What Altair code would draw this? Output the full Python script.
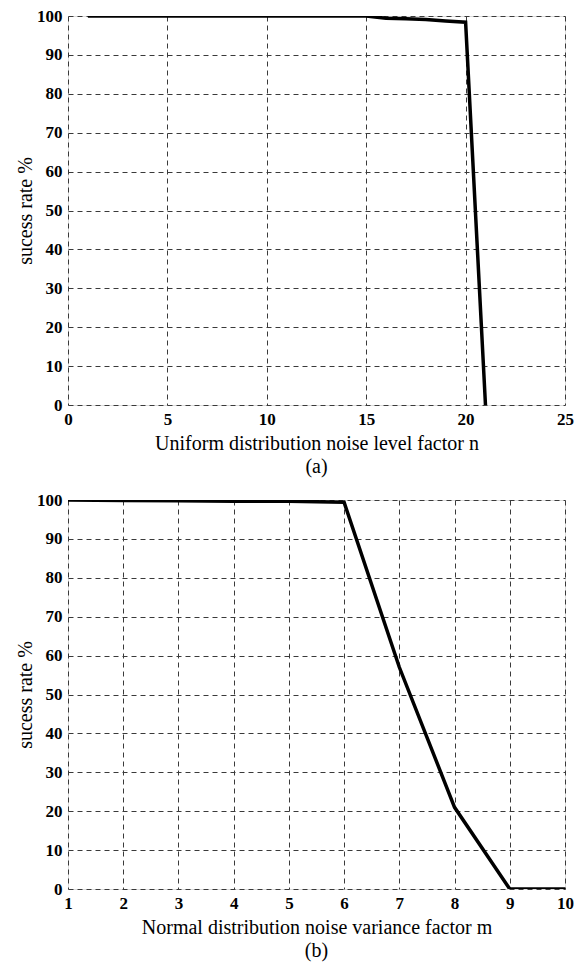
import altair as alt
import pandas as pd

# Panel (a): uniform distribution noise
a_x = [1, 2, 3, 4, 5, 6, 7, 8, 9, 10, 11, 12, 13, 14, 15, 16, 17, 18, 19, 20, 21]
a_y = [100, 100, 100, 100, 100, 100, 100, 100, 100, 100, 100, 100, 100, 100, 100, 99.4, 99.3, 99.1, 98.7, 98.4, 0]

# Panel (b): normal distribution noise
b_x = [1, 2, 3, 4, 5, 6, 7, 8, 9, 10]
b_y = [100, 99.9, 99.8, 99.7, 99.7, 99.4, 57, 21, 0, 0]

y_ticks = [0, 10, 20, 30, 40, 50, 60, 70, 80, 90, 100]
a_ticks = [0, 5, 10, 15, 20, 25]
b_ticks = [1, 2, 3, 4, 5, 6, 7, 8, 9, 10]

SERIF = "Liberation Serif"
W, H = 497, 389

def panel(xs, ys, xdom, xticks, xtitle, sub):
    df = pd.DataFrame({"x": xs, "y": ys})
    grid_axis = dict(
        grid=True, gridColor="#3a3a3a", gridDash=[5, 4], gridWidth=1, gridOpacity=1,
        domain=False, ticks=False, labelFlush=False,
        labelFont=SERIF, labelFontWeight="bold", labelFontSize=17, labelColor="black",
        titleFont=SERIF, titleFontWeight="normal", titleFontSize=20, titleColor="black",
    )
    return alt.Chart(df).mark_line(color="black", strokeWidth=3.5, clip=True).encode(
        x=alt.X("x:Q", scale=alt.Scale(domain=xdom, nice=False, zero=False),
                axis=alt.Axis(values=xticks, title=xtitle, labelPadding=6, titlePadding=6,
                              **grid_axis)),
        y=alt.Y("y:Q", scale=alt.Scale(domain=[0, 100], nice=False),
                axis=alt.Axis(values=y_ticks, title="sucess rate %", labelPadding=6, titlePadding=1,
                              **grid_axis)),
    ).properties(
        width=W, height=H,
        title=alt.TitleParams(sub, orient="bottom", font=SERIF, fontSize=20, fontWeight="normal",
                              color="black", offset=4),
    )

top = panel(a_x, a_y, [0, 25], a_ticks, "Uniform distribution noise level factor n", "(a)")
bot = panel(b_x, b_y, [1, 10], b_ticks, "Normal distribution noise variance factor m", "(b)")

chart = alt.vconcat(top, bot, spacing=12).configure_view(
    stroke="black", strokeWidth=1.2
).configure(padding={"left": 7, "top": -2, "right": 0, "bottom": 0}, background="white")

chart.save("out.html", embed_options={"renderer": "svg", "actions": False})
